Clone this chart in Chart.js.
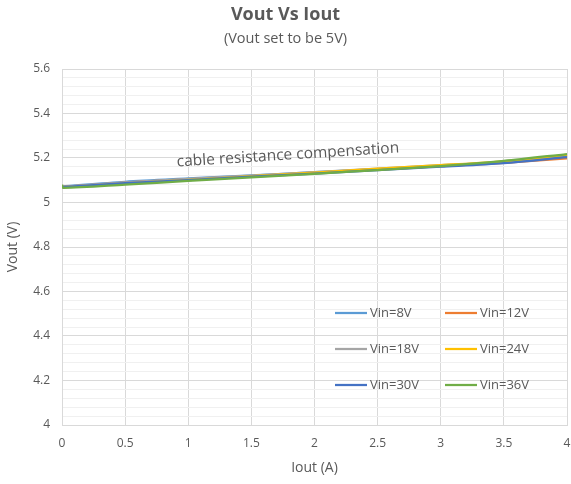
<!DOCTYPE html>
<html>
<head>
<meta charset="utf-8">
<script src="https://cdn.jsdelivr.net/npm/chart.js@4.4.1/dist/chart.umd.min.js"></script>
<style>
  html, body { margin: 0; padding: 0; background: #ffffff; }
  #wrap { width: 571px; height: 484px; position: relative; }
</style>
</head>
<body>
<div id="wrap"><canvas id="c" width="571" height="484"></canvas></div>
<script>
// ---- data ----
const iout   = [0, 0.5, 1, 1.5, 2, 2.5, 3, 3.5, 4];
const vin8   = [5.072, 5.093, 5.108, 5.122, 5.136, 5.150, 5.164, 5.180, 5.205];
const vin12  = [5.070, 5.089, 5.104, 5.119, 5.134, 5.148, 5.163, 5.178, 5.198];
const vin18  = [5.070, 5.090, 5.106, 5.121, 5.137, 5.152, 5.168, 5.183, 5.212];
const vin24  = [5.068, 5.086, 5.102, 5.118, 5.134, 5.152, 5.168, 5.185, 5.214];
const vin30  = [5.069, 5.087, 5.101, 5.116, 5.130, 5.146, 5.161, 5.177, 5.204];
const iout36 = [0, 0.01, 0.5, 1, 1.5, 2, 2.5, 3, 3.5, 4];
const vin36  = [5.080, 5.066, 5.080, 5.097, 5.113, 5.129, 5.146, 5.164, 5.187, 5.218];

const seriesLabels = ['Vin=8V', 'Vin=12V', 'Vin=18V', 'Vin=24V', 'Vin=30V', 'Vin=36V'];
const seriesColors = ['#5B9BD5', '#ED7D31', '#A5A5A5', '#FFC000', '#4472C4', '#70AD47'];
const xTicks = [0, 0.5, 1, 1.5, 2, 2.5, 3, 3.5, 4];
const titleText = 'Vout Vs Iout';
const subtitleText = '(Vout set to be 5V)';
const xTitle = 'Iout (A)';
const yTitle = 'Vout (V)';
const noteText = 'cable resistance compensation';

const FONT = "'Open Sans', 'Noto Sans', sans-serif";
const GRAY = '#595959';

function pts(xs, ys) { return xs.map((x, i) => ({ x: x, y: ys[i] })); }

const seriesData = [
  pts(iout, vin8), pts(iout, vin12), pts(iout, vin18),
  pts(iout, vin24), pts(iout, vin30), pts(iout36, vin36)
];

const datasets = seriesData.map((d, i) => ({
  label: seriesLabels[i],
  data: d,
  borderColor: seriesColors[i],
  backgroundColor: seriesColors[i],
  borderWidth: 2.25,
  pointRadius: 0,
  tension: 0.3,
  fill: false,
  order: seriesData.length - 1 - i
}));

// Custom 2-column legend drawn inside the plot area (bottom-right)
const legendPlugin = {
  id: 'gridLegend',
  afterDatasetsDraw(chart) {
    const ctx = chart.ctx;
    const a = chart.chartArea;
    ctx.save();
    ctx.font = '13px ' + FONT;
    ctx.fillStyle = GRAY;
    ctx.textBaseline = 'middle';
    ctx.textAlign = 'left';
    const colX = [a.right - 232, a.right - 122];
    const rowY = [a.bottom - 112, a.bottom - 76, a.bottom - 40];
    chart.data.datasets.forEach((ds, i) => {
      const cx = colX[i % 2];
      const cy = rowY[Math.floor(i / 2)];
      ctx.strokeStyle = ds.borderColor;
      ctx.lineWidth = 2.25;
      ctx.beginPath();
      ctx.moveTo(cx, cy);
      ctx.lineTo(cx + 32, cy);
      ctx.stroke();
      ctx.fillText(ds.label, cx + 35, cy + 0.5);
    });
    ctx.restore();
  }
};

// Rotated annotation text
const notePlugin = {
  id: 'note',
  afterDatasetsDraw(chart) {
    const ctx = chart.ctx;
    const xs = chart.scales.x, ys = chart.scales.y;
    ctx.save();
    ctx.translate(xs.getPixelForValue(1.79), ys.getPixelForValue(5.213));
    ctx.rotate(-3.6 * Math.PI / 180);
    ctx.font = '15.5px ' + FONT;
    ctx.fillStyle = GRAY;
    ctx.textAlign = 'center';
    ctx.textBaseline = 'middle';
    ctx.fillText(noteText, 0, 0);
    ctx.restore();
  }
};

new Chart(document.getElementById('c'), {
  type: 'line',
  data: { datasets: datasets },
  options: {
    responsive: false,
    animation: false,
    devicePixelRatio: 1,
    layout: { padding: { left: 0, right: 0, top: 0, bottom: 0 } },
    plugins: {
      legend: { display: false },
      tooltip: { enabled: false },
      title: {
        display: true,
        text: titleText,
        color: GRAY,
        font: { family: FONT, size: 18, weight: 'bold' },
        padding: { top: 4, bottom: 3 }
      },
      subtitle: {
        display: true,
        text: subtitleText,
        color: GRAY,
        font: { family: FONT, size: 14.5 },
        padding: { top: 2, bottom: 21 }
      }
    },
    scales: {
      x: {
        type: 'linear',
        min: 0, max: 4,
        afterBuildTicks(scale) { scale.ticks = xTicks.map(v => ({ value: v })); },
        afterFit(scale) { scale.height = 59; scale.paddingRight = 4; scale.paddingLeft = 0; },
        ticks: {
          color: GRAY,
          font: { family: FONT, size: 12 },
          padding: 11,
          maxRotation: 0,
          callback: v => String(v)
        },
        grid: { color: '#D9D9D9', lineWidth: 1, drawTicks: false },
        border: { color: '#D9D9D9' },
        title: {
          display: true, text: xTitle, color: GRAY,
          font: { family: FONT, size: 14 },
          padding: { top: 10, bottom: 8 }
        }
      },
      y: {
        type: 'linear',
        min: 4, max: 5.6,
        afterBuildTicks(scale) {
          const t = [];
          for (let k = 0; k <= 40; k++) t.push({ value: 4 + k * 0.04 });
          scale.ticks = t;
        },
        afterFit(scale) { scale.width = 62; },
        ticks: {
          color: GRAY,
          font: { family: FONT, size: 12 },
          padding: 12,
          autoSkip: false,
          callback: function (v) {
            const k = Math.round((v - 4) / 0.04);
            if (k % 5 !== 0) return '';
            const val = Math.round((4 + k * 0.04) * 10) / 10;
            return String(val);
          }
        },
        grid: {
          drawTicks: false,
          lineWidth: 1,
          color: ctx => {
            const k = Math.round((ctx.tick.value - 4) / 0.04);
            return k % 5 === 0 ? '#D9D9D9' : '#F0F0F0';
          }
        },
        border: { color: '#D9D9D9' },
        title: {
          display: true, text: yTitle, color: GRAY,
          font: { family: FONT, size: 14 },
          padding: { top: 5, bottom: 0 }
        }
      }
    }
  },
  plugins: [legendPlugin, notePlugin]
});
</script>
</body>
</html>
